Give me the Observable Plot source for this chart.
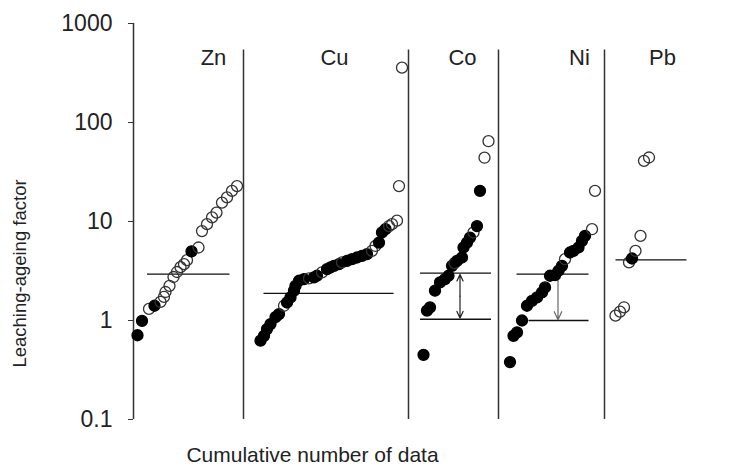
<!DOCTYPE html>
<html>
<head>
<meta charset="utf-8">
<script src="https://cdn.jsdelivr.net/npm/d3@7"></script>
<script src="https://cdn.jsdelivr.net/npm/@observablehq/plot@0.6"></script>
<style>
  html, body { margin: 0; padding: 0; background: #fff; }
</style>
</head>
<body>
<div id="chart"></div>
<script>
// ---- Data (x = cumulative number of data, y = leaching-ageing factor, filled 1 = solid dot) ----
const elements = ["Zn", "Cu", "Co", "Ni", "Pb"];
const elementLabelX = [16, 40.2, 65.8, 89.2, 105.8];
const dividerX = [22, 55, 73, 94.2];
const dividerTop = 540;

const znX = [0.8, 1.7, 3.1, 4.2, 5.4, 6.1, 6.4, 7.2, 8.0, 8.7, 9.4, 10.1, 10.7, 11.6, 13.0, 13.7, 14.7, 15.7, 16.6, 17.7, 18.7, 19.7, 20.7];
const znY = [0.71, 0.99, 1.31, 1.41, 1.54, 1.73, 1.94, 2.24, 2.75, 3.09, 3.46, 3.71, 4.07, 5.0, 5.46, 8.0, 9.4, 11.0, 12.3, 15.5, 17.5, 20.4, 22.8];
const znF = [1, 1, 0, 1, 0, 0, 0, 0, 0, 0, 0, 0, 0, 1, 0, 0, 0, 0, 0, 0, 0, 0, 0];

const cuX = [25.4, 26.1, 26.7, 27.4, 28.4, 29.1, 30.1, 30.7, 31.4, 32.1, 32.4, 33.1, 34.1, 35.1, 36.1, 36.7, 37.7, 38.7, 39.4, 40.1, 41.1, 41.7, 42.7, 43.7, 44.7, 45.7, 46.7, 47.7, 48.4, 49.1, 49.7, 50.4, 51.1, 51.7, 52.7, 53.1, 53.7];
const cuY = [0.625, 0.70, 0.82, 0.92, 1.08, 1.16, 1.41, 1.52, 1.71, 2.0, 2.24, 2.52, 2.62, 2.66, 2.73, 2.83, 3.06, 3.30, 3.44, 3.57, 3.71, 3.86, 4.0, 4.16, 4.33, 4.5, 4.68, 5.05, 5.66, 6.13, 7.75, 8.36, 9.0, 9.4, 10.2, 22.8, 358];
const cuF = [1, 1, 1, 1, 1, 1, 0, 1, 1, 1, 1, 1, 1, 0, 1, 1, 0, 1, 1, 1, 1, 0, 1, 1, 1, 1, 1, 0, 0, 1, 1, 1, 0, 0, 0, 0, 0];

const coX = [58, 58.7, 59.3, 60.3, 61.3, 62.3, 63, 63.7, 64.2, 64.7, 65.7, 66, 66.7, 67.3, 68, 68.7, 69.3, 70.2, 71];
const coY = [0.45, 1.26, 1.36, 2.0, 2.43, 2.62, 2.83, 3.57, 3.8, 4.0, 4.33, 5.46, 6.13, 6.88, 7.75, 9.0, 20.4, 44.1, 64.7];
const coF = [1, 1, 1, 1, 1, 1, 1, 1, 0, 1, 1, 1, 1, 1, 0, 1, 1, 0, 0];

const niX = [75.3, 76, 76.7, 77.7, 78.7, 79.7, 80.7, 81.7, 82.3, 83.3, 84.3, 85, 85.7, 86.3, 87.3, 88, 89, 89.7, 90.3, 91.7, 92.3];
const niY = [0.38, 0.70, 0.76, 1.0, 1.41, 1.58, 1.71, 1.92, 2.16, 2.83, 2.87, 3.18, 3.57, 4.16, 4.86, 5.05, 5.46, 6.37, 7.15, 8.36, 20.4];
const niF = [1, 1, 1, 1, 1, 1, 1, 1, 1, 1, 1, 1, 1, 0, 1, 1, 1, 1, 1, 0, 0];

const pbX = [96.4, 97.3, 98.1, 99.1, 99.7, 100.4, 101.4, 102.1, 103.1];
const pbY = [1.12, 1.23, 1.36, 3.86, 4.23, 5.05, 7.15, 41, 44.3];
const pbF = [0, 0, 0, 0, 1, 0, 0, 0, 0];

// reference (horizontal) lines
const lineX1 = [2.7, 26, 57.3, 57.3, 76.6, 79, 96.4];
const lineX2 = [19.2, 52, 71.5, 71.5, 91, 91, 110.6];
const lineY  = [2.94, 1.88, 3.01, 1.03, 2.94, 1.0, 4.1];

// arrows between reference lines (Co: double-headed, Ni: downward)
const arrowX      = [65.3, 84.9];
const arrowTop    = [2.92, 2.8];
const arrowBottom = [1.06, 1.02];
const arrowDouble = [true, false];
const arrowColor  = ["#222", "#666"];

const yTicks = [0.1, 1, 10, 100, 1000];

// ---- Build tables ----
const series = [[znX, znY, znF], [cuX, cuY, cuF], [coX, coY, coF], [niX, niY, niF], [pbX, pbY, pbF]];
const points = [];
series.forEach(([xs, ys, fs], k) => xs.forEach((x, i) => points.push({element: elements[k], x, y: ys[i], filled: fs[i] === 1})));
points.sort((a, b) => a.x - b.x);

const lines = lineY.map((y, i) => ({x1: lineX1[i], x2: lineX2[i], y}));
const labels = elements.map((e, i) => ({e, x: elementLabelX[i]}));
const arrows = [];
arrowX.forEach((x, i) => {
  if (arrowDouble[i]) {
    const mid = Math.sqrt(arrowTop[i] * arrowBottom[i]);
    arrows.push({x, y1: mid, y2: arrowTop[i], c: arrowColor[i]});
    arrows.push({x, y1: mid, y2: arrowBottom[i], c: arrowColor[i]});
  } else {
    arrows.push({x, y1: arrowTop[i], y2: arrowBottom[i], c: arrowColor[i]});
  }
});

const chart = Plot.plot({
  width: 735,
  height: 467,
  marginLeft: 133,
  marginRight: 2,
  marginTop: 23,
  marginBottom: 48,
  style: {fontFamily: "'Liberation Sans', Arial, sans-serif", fontSize: "22px", color: "#222", background: "#fff"},
  x: {domain: [0, 120], axis: null},
  y: {type: "log", domain: [0.1, 1000]},
  marks: [
    Plot.axisY({ticks: yTicks, tickFormat: d => `${d}`, tickSize: 5, tickPadding: 16, label: null, stroke: "#333", fontSize: 23}),
    Plot.ruleX([0], {stroke: "#333", strokeWidth: 1.5}),
    Plot.ruleX(dividerX, {y1: 0.1, y2: dividerTop, stroke: "#333", strokeWidth: 1.5}),
    Plot.link(lines, {x1: "x1", x2: "x2", y1: "y", y2: "y", stroke: "#111", strokeWidth: 1.3}),
    Plot.arrow(arrows, {x1: "x", x2: "x", y1: "y1", y2: "y2", stroke: "c", strokeWidth: 1.2, headLength: 11, headAngle: 50, inset: 0}),
    Plot.dot(points, {x: "x", y: "y", r: 5.5, fill: d => d.filled ? "#000" : "none", stroke: d => d.filled ? "#000" : "#333", strokeWidth: 1.3}),
    Plot.text(labels, {x: "x", y: () => 450, text: "e", fontSize: 22, fill: "#222", lineAnchor: "middle"}),
    Plot.text(["Leaching-ageing factor"], {frameAnchor: "left", dx: -113, dy: 52, rotate: -90, textAnchor: "middle", fontSize: 18.5, fill: "#222", lineAnchor: "middle"}),
    Plot.text(["Cumulative number of data"], {frameAnchor: "bottom", dx: -121, dy: 36, fontSize: 21, fill: "#222", lineAnchor: "middle"})
  ]
});
document.getElementById("chart").appendChild(chart);
</script>
</body>
</html>
